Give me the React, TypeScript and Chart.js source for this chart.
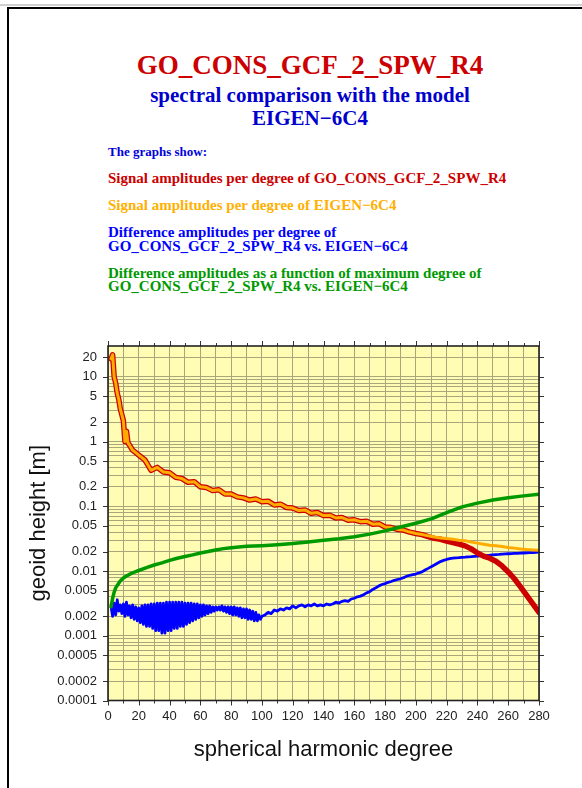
import React, { useEffect, useRef } from 'react';
import { Chart, registerables } from 'chart.js';

Chart.register(...registerables);

// ---------- data ----------
const signalDegrees = [
  2, 3, 4, 5, 6, 7, 8, 9, 10, 11, 12, 13, 14, 15, 16,
  20, 24, 28, 32, 36, 40, 44, 48, 52, 56, 60, 64, 68, 72, 76, 80, 84, 88, 92, 96, 100,
  104, 108, 112, 116, 120, 124, 128, 132, 136, 140, 144, 148, 152, 156, 160, 164, 168, 172, 176, 180,
  184, 188, 192, 196, 200, 204, 208, 212, 216, 220, 224, 228, 232, 236, 240, 244, 248, 252, 256, 260,
  264, 268, 272, 276, 280,
];

const goconsSignal = [
  19, 22, 10, 8, 5.6, 4.5, 3.2, 2.6, 2.1, 1.0, 1.45, 0.95, 0.88, 0.8, 0.74,
  0.62, 0.52, 0.36, 0.4, 0.34, 0.33, 0.28, 0.27, 0.235, 0.24, 0.2, 0.195, 0.175, 0.18, 0.155, 0.155, 0.14, 0.135, 0.125, 0.13, 0.118,
  0.12, 0.105, 0.108, 0.096, 0.094, 0.086, 0.088, 0.078, 0.08, 0.072, 0.073, 0.066, 0.067, 0.061, 0.062, 0.058, 0.059, 0.053, 0.054, 0.048,
  0.047, 0.044, 0.043, 0.04, 0.038, 0.0365, 0.034, 0.032, 0.031, 0.029, 0.0275, 0.026, 0.0245, 0.022, 0.019, 0.017, 0.0158, 0.0142, 0.012, 0.0097,
  0.0076, 0.0057, 0.0042, 0.0031, 0.0023,
];

const eigenSignal = [
  19, 22, 10, 8, 5.6, 4.5, 3.2, 2.6, 2.1, 1.0, 1.45, 0.95, 0.88, 0.8, 0.74,
  0.62, 0.52, 0.36, 0.4, 0.34, 0.33, 0.28, 0.27, 0.235, 0.24, 0.2, 0.195, 0.175, 0.18, 0.155, 0.155, 0.14, 0.135, 0.125, 0.13, 0.118,
  0.12, 0.105, 0.108, 0.096, 0.094, 0.086, 0.088, 0.078, 0.08, 0.072, 0.073, 0.066, 0.067, 0.061, 0.062, 0.058, 0.059, 0.053, 0.054, 0.048,
  0.047, 0.044, 0.043, 0.04, 0.038, 0.0368, 0.035, 0.0335, 0.0325, 0.0318, 0.031, 0.03, 0.0295, 0.028, 0.027, 0.026, 0.025, 0.0245, 0.024, 0.0232,
  0.0226, 0.022, 0.0215, 0.0212, 0.021,
];

// difference per degree, degrees 2..100 (one value per degree)
const diffLowStart = 2;
const diffLow = [
  0.0028, 0.002, 0.0032, 0.0021, 0.0036, 0.0024, 0.003, 0.0022, 0.0031, 0.002,
  0.0033, 0.0021, 0.0029, 0.0019, 0.003, 0.0018, 0.0028, 0.0017, 0.0027, 0.0016,
  0.0029, 0.0015, 0.003, 0.0014, 0.003, 0.0014, 0.0031, 0.0013, 0.0031, 0.0012,
  0.0032, 0.0012, 0.0032, 0.0011, 0.0032, 0.0011, 0.0033, 0.0012, 0.0033, 0.0012,
  0.0033, 0.0013, 0.0033, 0.0013, 0.0033, 0.0014, 0.0033, 0.0014, 0.0032, 0.0015,
  0.0032, 0.0016, 0.0032, 0.0017, 0.0031, 0.0018, 0.0031, 0.0019, 0.003, 0.002,
  0.003, 0.0021, 0.0029, 0.0022, 0.0029, 0.0023, 0.0028, 0.0024, 0.0028, 0.0025,
  0.0028, 0.0025, 0.0029, 0.0024, 0.0028, 0.0023, 0.0028, 0.0022, 0.0028, 0.0021,
  0.0028, 0.0021, 0.0027, 0.002, 0.0027, 0.0019, 0.0026, 0.0019, 0.0026, 0.0018,
  0.0025, 0.0018, 0.0024, 0.0017, 0.0023, 0.0017, 0.0021, 0.0018, 0.002,
];

// difference per degree, degrees 102..280 (every 2nd degree)
const diffHighStart = 102;
const diffHighStep = 2;
const diffHigh = [
  0.0021, 0.0023, 0.0022, 0.0025, 0.0024, 0.0026, 0.0025, 0.0027, 0.0026, 0.0029, // 102-120
  0.0027, 0.0029, 0.003, 0.0028, 0.003, 0.0029, 0.0031, 0.0029, 0.003, 0.0029, // 122-140
  0.0031, 0.003, 0.0031, 0.0033, 0.0032, 0.0034, 0.0035, 0.0034, 0.0037, 0.0038, // 142-160
  0.004, 0.0041, 0.0043, 0.0046, 0.0048, 0.0052, 0.0055, 0.0059, 0.0062, 0.0064, // 162-180
  0.0067, 0.0069, 0.0072, 0.0074, 0.0076, 0.0079, 0.0083, 0.0086, 0.0088, 0.009, // 182-200
  0.0094, 0.0097, 0.0104, 0.011, 0.0117, 0.0124, 0.0132, 0.014, 0.0146, 0.0151, // 202-220
  0.0155, 0.0158, 0.016, 0.0161, 0.0163, 0.0164, 0.0166, 0.0167, 0.0169, 0.017, // 222-240
  0.0172, 0.0173, 0.0175, 0.0176, 0.0178, 0.018, 0.0181, 0.0183, 0.0184, 0.0185, // 242-260
  0.0186, 0.0187, 0.0188, 0.0189, 0.019, 0.0191, 0.0192, 0.0193, 0.0195, 0.0197, // 262-280
];

const cumDegrees = [
  2, 3, 4, 5, 6, 7, 8, 10, 12, 14, 16, 18, 20, 25, 30, 35, 40, 45, 50, 55, 60, 65, 70, 75, 80, 85, 90, 95, 100,
  110, 120, 130, 140, 150, 160, 170, 180, 190, 200, 210, 220, 230, 240, 250, 260, 270, 280,
];
const cumDiff = [
  0.0028, 0.0038, 0.0047, 0.0055, 0.006, 0.0065, 0.007, 0.0078, 0.0084, 0.0089, 0.0094, 0.0098, 0.0102,
  0.0113, 0.0124, 0.0134, 0.0146, 0.0158, 0.0168, 0.0178, 0.019, 0.02, 0.0212, 0.0222, 0.023, 0.0236, 0.0241, 0.0244, 0.0247,
  0.0256, 0.0267, 0.0282, 0.0298, 0.0316, 0.034, 0.0372, 0.0418, 0.048, 0.0548, 0.064, 0.08, 0.098, 0.112, 0.125, 0.136, 0.145, 0.154,
];

const yTickLabels = [
  '20', '10', '5', '2', '1', '0.5', '0.2', '0.1', '0.05', '0.02', '0.01',
  '0.005', '0.002', '0.001', '0.0005', '0.0002', '0.0001',
];
const yMin = 0.0001;
const yMax = 30;
const xMin = 0;
const xMax = 280;
const xStep = 10;
const xLabelEvery = 20;

// ---------- helpers ----------
const yGridValues: number[] = [];
for (let e = -4; e <= 1; e++) {
  for (let m = 1; m <= 9; m++) {
    const v = Number((m * Math.pow(10, e)).toPrecision(3));
    if (v < yMax) yGridValues.push(v);
  }
}

function labelFor(v: number): string {
  for (const l of yTickLabels) {
    const n = Number(l);
    if (Math.abs(v - n) / n < 1e-6) return l;
  }
  return '';
}

const SANS = "'Liberation Sans', Arial, Helvetica, sans-serif";
const SERIF = "'Liberation Serif', 'Times New Roman', serif";

const framePlugin = {
  id: 'gmtFrame',
  beforeDraw(chart: any) {
    const { ctx, chartArea: a } = chart;
    ctx.save();
    ctx.fillStyle = '#fffcb4';
    ctx.fillRect(a.left, a.top, a.right - a.left, a.bottom - a.top);
    ctx.restore();
  },
  afterDraw(chart: any) {
    const { ctx, chartArea: a, scales } = chart;
    const x = scales.x;
    const y = scales.y;
    ctx.save();
    ctx.strokeStyle = '#333';
    ctx.lineWidth = 1;
    ctx.beginPath();
    x.ticks.forEach((t: any) => {
      const px = Math.round(x.getPixelForValue(t.value)) + 0.5;
      const len = t.value % xLabelEvery === 0 ? 5 : 3;
      ctx.moveTo(px, a.bottom);
      ctx.lineTo(px, a.bottom + len);
      ctx.moveTo(px, a.top);
      ctx.lineTo(px, a.top - len);
    });
    yTickLabels.forEach((l) => {
      const py = Math.round(y.getPixelForValue(Number(l))) + 0.5;
      ctx.moveTo(a.left - 5, py);
      ctx.lineTo(a.left, py);
      ctx.moveTo(a.right, py);
      ctx.lineTo(a.right + 5, py);
    });
    ctx.stroke();
    ctx.lineWidth = 1.6;
    ctx.strokeStyle = '#222';
    ctx.strokeRect(a.left, a.top, a.right - a.left, a.bottom - a.top);
    ctx.restore();
  },
};

function TextLine(props: { text: string; color: string; size: number; top: number; left?: number; center?: number }) {
  const { text, color, size, top, left, center } = props;
  const style: React.CSSProperties = {
    position: 'absolute',
    top,
    fontFamily: SERIF,
    fontWeight: 'bold',
    fontSize: size,
    lineHeight: `${size}px`,
    color,
    whiteSpace: 'nowrap',
  };
  if (center !== undefined) {
    style.left = center - 300;
    style.width = 600;
    style.textAlign = 'center';
  } else {
    style.left = left;
  }
  return <div style={style}>{text}</div>;
}

export default function App() {
  const ref = useRef<HTMLCanvasElement>(null);

  useEffect(() => {
    if (!ref.current) return;
    const gridColor = '#aaa67c';
    const chart = new Chart(ref.current, {
      type: 'line',
      data: {
        datasets: [
          {
            label: 'Difference amplitudes as a function of maximum degree',
            data: cumDegrees.map((d, i) => ({ x: d, y: cumDiff[i] })),
            borderColor: '#009a00',
            borderWidth: 3.5,
            order: 0,
          },
          {
            label: 'EIGEN-6C4',
            data: signalDegrees.map((d, i) => ({ x: d, y: eigenSignal[i] })),
            borderColor: '#ffab00',
            borderWidth: 3,
            order: 1,
          },
          {
            label: 'GO_CONS_GCF_2_SPW_R4',
            data: signalDegrees.map((d, i) => ({ x: d, y: goconsSignal[i] })),
            borderColor: '#cc0000',
            borderWidth: 5.5,
            order: 2,
          },
          {
            label: 'Difference amplitudes per degree',
            data: [
              ...diffLow.map((v, i) => ({ x: diffLowStart + i, y: v })),
              ...diffHigh.map((v, i) => ({ x: diffHighStart + i * diffHighStep, y: v })),
            ],
            borderColor: '#0000ff',
            borderWidth: 2.8,
            order: 3,
          },
        ],
      },
      options: {
        responsive: false,
        animation: false,
        devicePixelRatio: 1,
        parsing: true,
        layout: { padding: { left: 0, top: 346, right: 43, bottom: 0 } },
        elements: { point: { radius: 0 }, line: { tension: 0, borderJoinStyle: 'round', borderCapStyle: 'round' } },
        plugins: { legend: { display: false }, tooltip: { enabled: false }, title: { display: false } },
        scales: {
          x: {
            type: 'linear',
            min: xMin,
            max: xMax,
            afterFit(s: any) {
              s.height = 87.5;
              s.paddingLeft = 0;
              s.paddingRight = 0;
            },
            ticks: {
              stepSize: xStep,
              maxTicksLimit: 100,
              autoSkip: false,
              maxRotation: 0,
              padding: 8,
              color: '#222',
              font: { family: SANS, size: 13 },
              callback: (v: any) => (Number(v) % xLabelEvery === 0 ? String(v) : ''),
            },
            grid: { color: gridColor, lineWidth: 1, drawTicks: false },
            border: { display: false },
            title: {
              display: true,
              text: 'spherical harmonic degree',
              color: '#111',
              font: { family: SANS, size: 22 },
              padding: { top: 0, bottom: 25 },
            },
          },
          y: {
            type: 'logarithmic',
            min: yMin,
            max: yMax,
            afterBuildTicks(s: any) {
              s.ticks = yGridValues.map((v) => ({ value: v }));
            },
            afterFit(s: any) {
              s.width = 108;
              s.paddingTop = 0;
              s.paddingBottom = 0;
            },
            ticks: {
              autoSkip: false,
              padding: 11,
              color: '#222',
              font: { family: SANS, size: 13 },
              callback: (v: any) => labelFor(Number(v)),
            },
            grid: { color: gridColor, lineWidth: 1, drawTicks: false },
            border: { display: false },
            title: {
              display: true,
              text: 'geoid height [m]',
              color: '#111',
              font: { family: SANS, size: 22 },
              padding: { top: 26, bottom: 0 },
            },
          },
        },
      },
      plugins: [framePlugin],
    } as any);
    return () => chart.destroy();
  }, []);

  return (
    <div style={{ position: 'absolute', left: 0, top: 0, width: 582, height: 788, overflow: 'hidden', background: '#fff' }}>
      <div style={{ position: 'absolute', left: 0, top: 4, width: 582, height: 2, background: '#cfcfcf' }} />
      <div
        style={{
          position: 'absolute',
          left: 7,
          top: 7,
          width: 700,
          height: 900,
          borderLeft: '2px solid #000',
          borderTop: '2px solid #000',
        }}
      />
      <TextLine text="GO_CONS_GCF_2_SPW_R4" color="#cc0000" size={27} top={52} center={310} />
      <TextLine text="spectral comparison with the model" color="#0000cc" size={21} top={84.7} center={310} />
      <TextLine text="EIGEN−6C4" color="#0000cc" size={21} top={108.4} center={310} />
      <TextLine text="The graphs show:" color="#0000dd" size={13} top={145.3} left={108} />
      <TextLine text="Signal amplitudes per degree of GO_CONS_GCF_2_SPW_R4" color="#cc0000" size={15} top={171} left={108} />
      <TextLine text="Signal amplitudes per degree of EIGEN−6C4" color="#ffb000" size={15} top={197.6} left={108} />
      <TextLine text="Difference amplitudes per degree of" color="#0000ff" size={15} top={225.1} left={108} />
      <TextLine text="GO_CONS_GCF_2_SPW_R4 vs. EIGEN−6C4" color="#0000ff" size={15} top={239.4} left={108} />
      <TextLine text="Difference amplitudes as a function of maximum degree of" color="#009900" size={15} top={266} left={108} />
      <TextLine text="GO_CONS_GCF_2_SPW_R4 vs. EIGEN−6C4" color="#009900" size={15} top={278.8} left={108} />
      <canvas ref={ref} width={582} height={788} style={{ position: 'absolute', left: 0, top: 0 }} />
    </div>
  );
}
